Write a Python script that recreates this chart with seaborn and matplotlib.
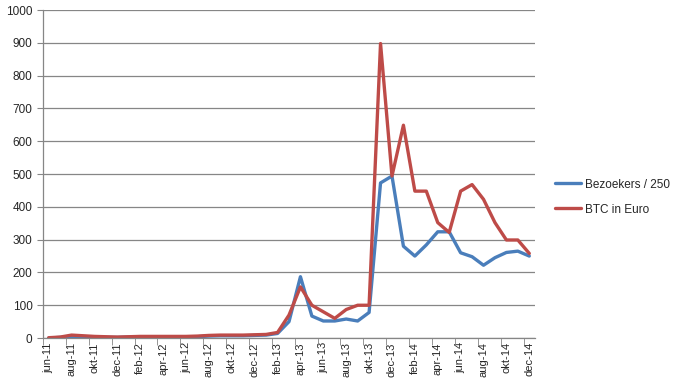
import numpy as np
import pandas as pd
import matplotlib
matplotlib.use('Agg')
import matplotlib.pyplot as plt
import seaborn as sns

# months jun-11 .. dec-14
months = ["jun-11", "jul-11", "aug-11", "sep-11", "okt-11", "nov-11", "dec-11",
          "jan-12", "feb-12", "mrt-12", "apr-12", "mei-12", "jun-12", "jul-12",
          "aug-12", "sep-12", "okt-12", "nov-12", "dec-12", "jan-13", "feb-13",
          "mrt-13", "apr-13", "mei-13", "jun-13", "jul-13", "aug-13", "sep-13",
          "okt-13", "nov-13", "dec-13", "jan-14", "feb-14", "mrt-14", "apr-14",
          "mei-14", "jun-14", "jul-14", "aug-14", "sep-14", "okt-14", "nov-14",
          "dec-14"]

bezoekers = [0, 2, 4, 3, 2, 2, 2, 3, 3, 3, 3, 3, 4, 4, 6, 7, 7, 7, 8, 9, 14,
             50, 187, 67, 52, 52, 58, 52, 78, 473, 494, 280, 250, 284, 324,
             324, 260, 248, 222, 245, 261, 265, 250]

btc_euro = [1, 3, 9, 7, 5, 4, 3, 4, 5, 5, 5, 5, 5, 6, 8, 9, 9, 9, 10, 11, 17,
            70, 156, 100, 80, 60, 87, 100, 100, 898, 494, 649, 448, 448, 352,
            322, 448, 468, 423, 352, 299, 299, 258]

series_names = ["Bezoekers / 250", "BTC in Euro"]
colors = ["#4A7EBB", "#BE4B48"]

df = pd.DataFrame({"idx": np.arange(len(months)),
                   series_names[0]: bezoekers,
                   series_names[1]: btc_euro})
long = df.melt(id_vars="idx", var_name="serie", value_name="waarde")

sns.set_style("white")
plt.rcParams['font.family'] = ['Liberation Sans', 'DejaVu Sans']

fig = plt.figure(figsize=(6.78, 3.89), dpi=100)
ax = fig.add_axes([0.0634, 0.131, 0.7257, 0.843])

sns.lineplot(data=long, x="idx", y="waarde", hue="serie",
             palette=colors, linewidth=2.4, ax=ax)

ax.set_xlim(-0.5, len(months) - 0.5)
ax.set_ylim(0, 1000)
ax.set_yticks(np.arange(0, 1001, 100))
ax.tick_params(axis='y', labelsize=8.5, length=4, color='#868686',
               direction='out', left=True)
ax.yaxis.grid(True, color='#868686', linewidth=0.9)
ax.set_axisbelow(True)

# labels on every second month, tick marks on the category borders
ax.set_xticks(np.arange(0, len(months), 2))
ax.set_xticklabels(months[::2], rotation=90, fontsize=8)
ax.set_xticks(np.arange(-0.5, len(months), 2), minor=True)
ax.tick_params(axis='x', which='major', length=0, pad=3)
ax.tick_params(axis='x', which='minor', length=5, color='#868686',
               direction='out', bottom=True)

for side in ['top', 'right']:
    ax.spines[side].set_visible(False)
for side in ['left', 'bottom']:
    ax.spines[side].set_color('#868686')
    ax.spines[side].set_linewidth(0.9)

ax.set_xlabel("")
ax.set_ylabel("")
ax.legend(loc='center left', bbox_to_anchor=(1.02, 0.43), frameon=False,
          fontsize=8.5, handlelength=2.2, labelspacing=1.1, handletextpad=0.3)

fig.savefig("out.png", dpi=100)
